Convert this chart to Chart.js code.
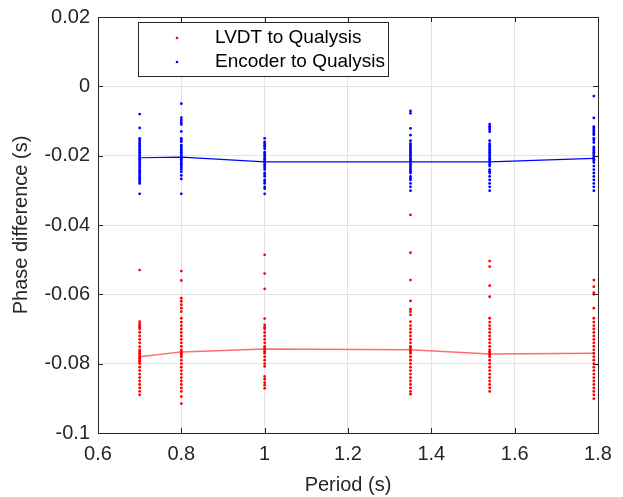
<!DOCTYPE html>
<html>
<head>
<meta charset="utf-8">
<script src="https://cdn.jsdelivr.net/npm/chart.js@4/dist/chart.umd.min.js"></script>
<style>
html,body{margin:0;padding:0;background:#fff;}
#wrap{position:relative;width:623px;height:497px;}
</style>
</head>
<body>
<div id="wrap"><canvas id="c" width="623" height="497"></canvas></div>
<script>
// Periods (s)
const periods = [0.7, 0.8, 1.0, 1.35, 1.54, 1.79];
const seriesNames = ["LVDT to Qualysis", "Encoder to Qualysis"];

// Mean phase difference lines (s)
const lvdtMean = [-0.0780, -0.0766, -0.0758, -0.0760, -0.0772, -0.0770];
const encMean  = [-0.0206, -0.0204, -0.0218, -0.0218, -0.0218, -0.0208];

// Individual measurements, Encoder to Qualysis
const enc070 = [-0.008,-0.012,-0.015,-0.0155,-0.016,-0.0165,-0.017,-0.0175,-0.018,-0.0185,-0.019,-0.0195,-0.020,-0.0205,-0.021,-0.0215,-0.022,-0.0225,-0.023,-0.0235,-0.024,-0.0245,-0.025,-0.0255,-0.026,-0.0265,-0.027,-0.0275,-0.028,-0.031];
const enc080 = [-0.005,-0.009,-0.0097,-0.0104,-0.011,-0.013,-0.015,-0.0155,-0.016,-0.017,-0.0175,-0.018,-0.0185,-0.019,-0.0195,-0.020,-0.0205,-0.021,-0.0215,-0.022,-0.0225,-0.023,-0.0235,-0.024,-0.0247,-0.0257,-0.0267,-0.031];
const enc100 = [-0.015,-0.016,-0.0165,-0.017,-0.0175,-0.018,-0.019,-0.0195,-0.020,-0.0205,-0.021,-0.0215,-0.022,-0.0225,-0.023,-0.0235,-0.024,-0.025,-0.0255,-0.026,-0.027,-0.0275,-0.028,-0.029,-0.0295,-0.031];
const enc135 = [-0.0071,-0.0078,-0.0121,-0.0141,-0.0157,-0.0165,-0.017,-0.0175,-0.018,-0.0185,-0.019,-0.0195,-0.020,-0.0205,-0.021,-0.0215,-0.022,-0.0225,-0.023,-0.0235,-0.024,-0.0245,-0.025,-0.026,-0.0265,-0.027,-0.028,-0.029,-0.0301];
const enc154 = [-0.0109,-0.0115,-0.012,-0.0125,-0.0131,-0.0157,-0.0165,-0.017,-0.0175,-0.018,-0.0185,-0.019,-0.0195,-0.020,-0.0205,-0.021,-0.0215,-0.022,-0.0225,-0.023,-0.024,-0.0245,-0.025,-0.026,-0.027,-0.028,-0.029,-0.0301];
const enc179 = [-0.0028,-0.0091,-0.0116,-0.012,-0.0125,-0.013,-0.0135,-0.014,-0.015,-0.0155,-0.0162,-0.0175,-0.018,-0.0185,-0.019,-0.0195,-0.020,-0.0205,-0.021,-0.0215,-0.022,-0.023,-0.024,-0.025,-0.026,-0.027,-0.028,-0.029,-0.0301];

// Individual measurements, LVDT to Qualysis
const lvdt070 = [-0.053,-0.0679,-0.0685,-0.069,-0.0695,-0.070,-0.071,-0.072,-0.073,-0.074,-0.0751,-0.076,-0.0765,-0.077,-0.0775,-0.078,-0.0785,-0.079,-0.0795,-0.080,-0.081,-0.082,-0.083,-0.084,-0.085,-0.086,-0.087,-0.088,-0.089];
const lvdt080 = [-0.0533,-0.056,-0.0611,-0.062,-0.063,-0.064,-0.065,-0.0669,-0.068,-0.069,-0.070,-0.071,-0.072,-0.073,-0.074,-0.075,-0.076,-0.0765,-0.077,-0.0775,-0.078,-0.079,-0.080,-0.081,-0.082,-0.083,-0.084,-0.085,-0.086,-0.087,-0.088,-0.0895,-0.0915];
const lvdt100 = [-0.0486,-0.054,-0.0584,-0.067,-0.0688,-0.0695,-0.070,-0.071,-0.072,-0.073,-0.074,-0.075,-0.0755,-0.076,-0.0765,-0.077,-0.078,-0.079,-0.080,-0.0808,-0.0837,-0.0845,-0.0855,-0.0862,-0.0871];
const lvdt135 = [-0.0371,-0.048,-0.0559,-0.0619,-0.0643,-0.065,-0.0659,-0.0679,-0.069,-0.070,-0.071,-0.072,-0.073,-0.074,-0.075,-0.0755,-0.076,-0.0765,-0.077,-0.078,-0.079,-0.080,-0.081,-0.082,-0.083,-0.084,-0.085,-0.086,-0.087,-0.088,-0.0888];
const lvdt154 = [-0.0504,-0.052,-0.0575,-0.0607,-0.0669,-0.068,-0.069,-0.070,-0.071,-0.072,-0.073,-0.074,-0.075,-0.076,-0.0765,-0.077,-0.0775,-0.078,-0.079,-0.080,-0.081,-0.082,-0.083,-0.084,-0.085,-0.086,-0.087,-0.088];
const lvdt179 = [-0.0559,-0.0578,-0.0595,-0.060,-0.064,-0.0669,-0.068,-0.069,-0.070,-0.071,-0.072,-0.073,-0.074,-0.075,-0.076,-0.077,-0.078,-0.079,-0.080,-0.081,-0.082,-0.083,-0.084,-0.085,-0.086,-0.087,-0.088,-0.089,-0.0901];

// Axis ticks
const xTicks = [0.6, 0.8, 1.0, 1.2, 1.4, 1.6, 1.8];
const yTicks = [0.02, 0, -0.02, -0.04, -0.06, -0.08, -0.1];

const encGroups = [enc070, enc080, enc100, enc135, enc154, enc179];
const lvdtGroups = [lvdt070, lvdt080, lvdt100, lvdt135, lvdt154, lvdt179];
function toPoints(groups){
  const pts = [];
  groups.forEach((g, i) => g.forEach(v => pts.push({x: periods[i], y: v})));
  return pts;
}
const lvdtPts = toPoints(lvdtGroups);
const encPts = toPoints(encGroups);
const lvdtLine = periods.map((p, i) => ({x: p, y: lvdtMean[i]}));
const encLine = periods.map((p, i) => ({x: p, y: encMean[i]}));

const FONT = "'Liberation Sans', Arial, sans-serif";
const AX = '#262626';

const boxPlugin = {
  id: 'boxPlugin',
  afterDatasetsDraw(chart){
    const {ctx, chartArea: a, scales} = chart;
    ctx.save();
    // inward ticks
    ctx.strokeStyle = AX; ctx.lineWidth = 1;
    const tl = 5;
    ctx.beginPath();
    xTicks.forEach(t => {
      const x = Math.round(scales.x.getPixelForValue(t)) + 0.5;
      ctx.moveTo(x, a.bottom); ctx.lineTo(x, a.bottom - tl);
      ctx.moveTo(x, a.top); ctx.lineTo(x, a.top + tl);
    });
    yTicks.forEach(t => {
      const y = Math.round(scales.y.getPixelForValue(t)) + 0.5;
      ctx.moveTo(a.left, y); ctx.lineTo(a.left + tl, y);
      ctx.moveTo(a.right, y); ctx.lineTo(a.right - tl, y);
    });
    ctx.stroke();
    ctx.strokeRect(Math.round(a.left)+0.5, Math.round(a.top)+0.5, Math.round(a.right-a.left), Math.round(a.bottom-a.top));

    // legend box
    const lx = 138, ly = 22, lw = 250, lh = 54;
    ctx.fillStyle = '#fff';
    ctx.fillRect(lx, ly, lw, lh);
    ctx.strokeStyle = AX;
    ctx.strokeRect(lx + 0.5, ly + 0.5, lw, lh);
    const items = [{t: seriesNames[0], c: '#ff0000'}, {t: seriesNames[1], c: '#0000ff'}];
    ctx.font = '19px ' + FONT;
    ctx.textBaseline = 'middle';
    items.forEach((it, i) => {
      const cy = 38 + i * 24;
      ctx.fillStyle = it.c;
      ctx.beginPath(); ctx.arc(177, cy, 1.3, 0, Math.PI * 2); ctx.fill();
      ctx.fillStyle = '#000';
      ctx.fillText(it.t, 215, cy);
    });
    ctx.restore();
  }
};

new Chart(document.getElementById('c'), {
  type: 'scatter',
  data: {
    datasets: [
      {label: seriesNames[0], data: lvdtPts, backgroundColor: '#ff0000', borderWidth: 0, pointRadius: 1.4, pointHoverRadius: 1.4},
      {label: seriesNames[1], data: encPts, backgroundColor: '#0000ff', borderWidth: 0, pointRadius: 1.4, pointHoverRadius: 1.4},
      {label: 'LVDT mean', type: 'line', data: lvdtLine, borderColor: 'rgba(255,60,60,0.75)', borderWidth: 1.5, pointRadius: 0, fill: false, tension: 0},
      {label: 'Encoder mean', type: 'line', data: encLine, borderColor: '#0000ff', borderWidth: 1.2, pointRadius: 0, fill: false, tension: 0}
    ]
  },
  options: {
    responsive: false,
    animation: false,
    layout: {padding: {left: 0, right: 25, top: 17, bottom: 0}},
    plugins: {legend: {display: false}, tooltip: {enabled: false}},
    scales: {
      x: {
        type: 'linear', min: 0.6, max: 1.8,
        afterBuildTicks(s){ s.ticks = xTicks.map(v => ({value: v})); },
        afterFit(s){ s.height = 64; s.paddingLeft = 0; s.paddingRight = 0; },
        ticks: {color: AX, font: {family: FONT, size: 20}, padding: 9,
          callback: v => String(Math.round(v * 10) / 10)},
        grid: {color: '#e3e3e3', drawTicks: false},
        border: {display: false},
        title: {display: true, text: 'Period (s)', color: AX, font: {family: FONT, size: 20}, padding: {top: 0, bottom: 0}}
      },
      y: {
        type: 'linear', min: -0.1, max: 0.02,
        afterBuildTicks(s){ s.ticks = yTicks.map(v => ({value: v})); },
        afterFit(s){ s.width = 98; s.paddingTop = 0; s.paddingBottom = 0; },
        ticks: {color: AX, font: {family: FONT, size: 20}, padding: 8,
          callback: v => String(Math.round(v * 100) / 100)},
        grid: {color: '#e3e3e3', drawTicks: false},
        border: {display: false},
        title: {display: true, text: 'Phase difference (s)', color: AX, font: {family: FONT, size: 20}, padding: {top: 9, bottom: 0}}
      }
    }
  },
  plugins: [boxPlugin]
});
</script>
</body>
</html>
